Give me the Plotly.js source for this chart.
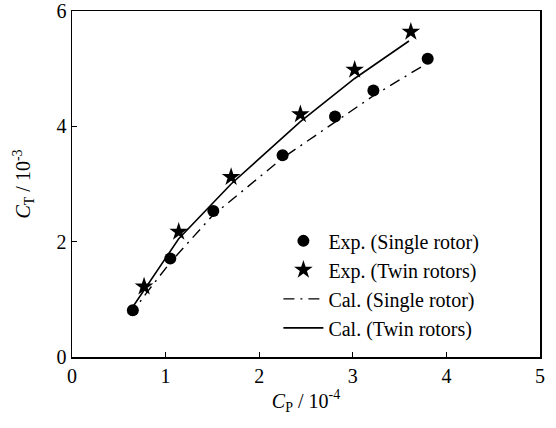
<!DOCTYPE html>
<html>
<head>
<meta charset="utf-8">
<script src="https://cdn.plot.ly/plotly-3.0.1.min.js"></script>
<style>html,body{margin:0;padding:0;background:#fff;}#chart{width:556px;height:428px;}</style>
</head>
<body>
<div id="chart"></div>
<script>
// Experimental data
const expSingleCP = [0.65, 1.05, 1.51, 2.25, 2.81, 3.22, 3.80];
const expSingleCT = [0.81, 1.71, 2.53, 3.50, 4.17, 4.62, 5.17];
const expTwinCP = [0.77, 1.14, 1.70, 2.44, 3.02, 3.62];
const expTwinCT = [1.22, 2.17, 3.12, 4.21, 4.98, 5.64];
// Calculated curves
const calSingleCP = [0.62, 0.80, 1.05, 1.50, 2.25, 2.81, 3.22, 3.75];
const calSingleCT = [0.72, 1.12, 1.64, 2.45, 3.45, 4.08, 4.53, 5.05];
const calTwinCP = [0.60, 0.77, 1.14, 1.70, 2.44, 3.02, 3.60];
const calTwinCT = [0.75, 1.16, 2.05, 3.00, 4.08, 4.83, 5.48];
// Labels
const seriesNames = ["Exp. (Single rotor)", "Exp. (Twin rotors)", "Cal. (Single rotor)", "Cal. (Twin rotors)"];
const xTicks = [0, 1, 2, 3, 4, 5];
const yTicks = [0, 2, 4, 6];

const font = {family: "Liberation Serif, Times New Roman, serif", size: 20, color: "#000"};

const traces = [
  {x: calSingleCP, y: calSingleCT, mode: "lines", name: seriesNames[2],
   line: {color: "#000", width: 1.4, dash: "11px,6px,2px,6px"}, legendrank: 3},
  {x: calTwinCP, y: calTwinCT, mode: "lines", name: seriesNames[3],
   line: {color: "#000", width: 1.6}, legendrank: 4},
  {x: expSingleCP, y: expSingleCT, mode: "markers", name: seriesNames[0],
   marker: {symbol: "circle", size: 12, color: "#000"}, legendrank: 1},
  {x: expTwinCP, y: expTwinCT, mode: "markers", name: seriesNames[1],
   marker: {symbol: "star", size: 14, color: "#000"}, legendrank: 2}
];

const layout = {
  width: 556, height: 428,
  margin: {l: 72, r: 16, t: 11, b: 71},
  paper_bgcolor: "#fff", plot_bgcolor: "#fff",
  font: font,
  showlegend: true,
  legend: {x: 0.441, y: 0.392, xanchor: "left", yanchor: "top", bgcolor: "rgba(0,0,0,0)",
           font: font, tracegroupgap: 0, itemwidth: 40},
  xaxis: {
    range: [0, 5], tickvals: xTicks, ticktext: xTicks.map(String),
    ticks: "inside", ticklen: 5, tickwidth: 1.3, tickcolor: "#000",
    showline: true, linecolor: "#000", linewidth: 1.5, mirror: true,
    showgrid: false, zeroline: false, tickfont: font, ticklabeloverflow: "allow",
    title: {text: "<i>C</i><sub>P</sub> / 10<sup>-4</sup>", font: font, standoff: 8}
  },
  yaxis: {
    range: [0, 6], tickvals: yTicks, ticktext: yTicks.map(String),
    ticks: "inside", ticklen: 5, tickwidth: 1.3, tickcolor: "#000",
    showline: true, linecolor: "#000", linewidth: 1.5, mirror: true,
    showgrid: false, zeroline: false, tickfont: font, ticklabeloverflow: "allow",
    title: {text: "<i>C</i><sub>T</sub> / 10<sup>-3</sup>", font: font, standoff: 20}
  }
};

Plotly.newPlot("chart", traces, layout, {staticPlot: true, displayModeBar: false});
</script>
</body>
</html>
